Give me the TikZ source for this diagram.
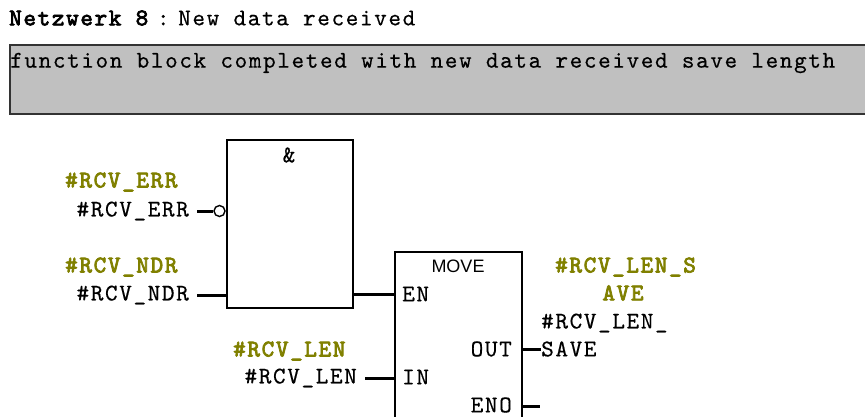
\documentclass[tikz,border=0pt]{standalone}
\usepackage{fontspec}
\setsansfont{Liberation Sans}
\newfontfamily\lmt[LetterSpace=6.8,FakeBold=0.4]{lmmono10-regular.otf}
\newfontfamily\lmtb[LetterSpace=6.8,FakeBold=3]{lmmono10-regular.otf}
\definecolor{olivelbl}{HTML}{808000}
\definecolor{cmtgray}{HTML}{C0C0C0}
\tikzset{
  lbl/.style={font=\lmt\fontsize{24}{24}\selectfont, inner sep=0pt, text=black},
  oliv/.style={font=\lmtb\fontsize{24}{24}\selectfont, inner sep=0pt, text=olivelbl},
  blk/.style={draw=black, line width=1.6pt, fill=white, inner sep=0pt},
  wire/.style={line width=3pt},
}
\begin{document}
\begin{tikzpicture}[x=1pt,y=-1pt]
\useasboundingbox (0,0) rectangle (865,416);
% title
\node[lbl, anchor=west] (title) at (9,18) {{\lmtb\fontsize{24}{24}\selectfont Netzwerk 8}\makebox[30pt]{:}New data received};
% comment box
\node[draw=black!80, line width=1.8pt, fill=cmtgray, anchor=north west, minimum width=880pt, minimum height=69pt, inner sep=0pt] (cmt) at (9,44) {};
\node[lbl, anchor=west] (cmttext) at (10,63) {function block completed with new data received save length};
% AND box
\node[blk, anchor=north west, minimum width=126pt, minimum height=168pt] (and) at (226,139) {};
\node[lbl] (amp) at (289,155) {\&};
% MOVE box
\node[blk, anchor=north west, minimum width=127pt, minimum height=190pt] (move) at (394,251) {};
\node[font=\sffamily\fontsize{18}{18}\selectfont, inner sep=0pt] (movet) at (458,266) {MOVE};
\node[lbl, anchor=west] (en) at (402,294) {EN};
\node[lbl, anchor=west] (in) at (402,377) {IN};
\node[lbl, anchor=east] (out) at (512,349) {OUT};
\node[lbl, anchor=east] (eno) at (512,405) {ENO};
% inputs of AND
\node[oliv, anchor=west] (errO) at (65,182) {\#RCV\_ERR};
\node[lbl, anchor=east] (errB) at (189,211) {\#RCV\_ERR};
\node[oliv, anchor=west] (ndrO) at (65,267) {\#RCV\_NDR};
\node[lbl, anchor=east] (ndrB) at (189,295) {\#RCV\_NDR};
\node[circle, draw=black, line width=1.4pt, fill=white, minimum size=11pt, inner sep=0pt] (neg) at (219.5,211) {};
\draw[wire] ([xshift=8pt]errB.east) -- (neg.west);
\draw[wire] ([xshift=8pt]ndrB.east) -- (and.west |- ndrB.east);
% AND output to EN
\draw[wire] (and.east |- en.west) -- (move.west |- en.west);
% IN
\node[oliv, anchor=west] (lenO) at (233,351) {\#RCV\_LEN};
\node[lbl, anchor=east] (lenB) at (357,378) {\#RCV\_LEN};
\draw[wire] ([xshift=8pt]lenB.east) -- (move.west |- lenB.east);
% OUT
\node[oliv, anchor=west] (saveO1) at (555,267) {\#RCV\_LEN\_S};
\node[oliv] (saveO2) at (623,293) {AVE};
\node[lbl, anchor=west] (saveB1) at (541,323) {\#RCV\_LEN\_};
\node[lbl, anchor=west] (saveB2) at (541,349) {SAVE};
\draw[wire] (move.east |- out.east) -- (saveB2.west);
% ENO
\coordinate (enoend) at (540,406);
\draw[wire] (move.east |- enoend) -- (enoend);
\end{tikzpicture}
\end{document}
